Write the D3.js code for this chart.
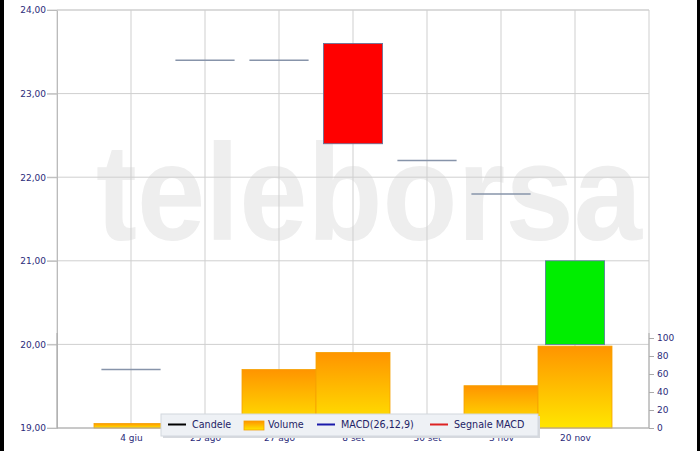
<html>
<head>
	<meta content="text/html;charset=utf-8" http-equiv="Content-Type">
	<style>
		body {
			margin: 0;
			background: white;
			font-family: "DejaVu Sans", Verdana, sans-serif;
		}
		svg {
			display: block;
		}
	</style>
	<script src="https://cdn.jsdelivr.net/npm/d3@7"></script>
</head>
<body>
	<svg id="Chart"></svg>
</body>
<script>
	// categories and series
	let dates = ["4 giu", "25 ago", "27 ago", "8 set", "30 set", "3 nov", "20 nov"]
	let openPrices = [19.70, 23.40, 23.40, 23.60, 22.20, 21.80, 20.00]
	let closePrices = [19.70, 23.40, 23.40, 22.40, 22.20, 21.80, 21.00]
	let volumes = [5, 3, 65, 84, 3, 47, 91]
	let priceTicks = [19, 20, 21, 22, 23, 24]
	let volumeTicks = [0, 20, 40, 60, 80, 100]
	let legendItems = ["Candele", "Volume", "MACD(26,12,9)", "Segnale MACD"]

	function getConfig() {
		let width = 700
		let height = 451
		let margin = { top: 10, bottom: 23, left: 57, right: 51 }
		let bodyWidth = width - margin.left - margin.right
		let bodyHeight = height - margin.top - margin.bottom
		let container = d3.select("#Chart")
			.attr("width", width)
			.attr("height", height)
		return { width, height, margin, bodyWidth, bodyHeight, container }
	}

	function getScales(config) {
		let { margin, width, height } = config
		let xScale = d3.scalePoint()
			.domain(dates)
			.range([margin.left, width - margin.right])
			.padding(1)
		let yScale = d3.scaleLinear()
			.domain([19, 24])
			.range([height - margin.bottom, margin.top])
		// volume pane sits in the bottom of the plot, 0..100 over 90px
		let vScale = d3.scaleLinear()
			.domain([0, 100])
			.range([height - margin.bottom, height - margin.bottom - 90])
		return { xScale, yScale, vScale }
	}

	function drawBackground(config) {
		let { container, width, height, margin } = config
		container.append("rect")
			.attr("width", width).attr("height", height)
			.attr("fill", "white")
		// dark strips on the sides of the picture
		container.append("rect").attr("x", 0).attr("y", 0)
			.attr("width", 4).attr("height", height).attr("fill", "#000")
		container.append("rect").attr("x", width - 3).attr("y", 0)
			.attr("width", 3).attr("height", height).attr("fill", "#000")

		// watermark
		container.append("text")
			.attr("x", 96)
			.attr("y", 240)
			.attr("textLength", 546)
			.attr("lengthAdjust", "spacingAndGlyphs")
			.attr("font-family", "Liberation Sans, Arial, sans-serif")
			.attr("font-weight", "bold")
			.attr("font-size", 138)
			.attr("fill", "#eeeeee")
			.text("teleborsa")
	}

	function drawGrid(config, scales) {
		let { container, margin, width, height } = config
		let { xScale, yScale } = scales
		let grid = container.append("g")

		grid.selectAll(".hgrid").data(priceTicks)
			.enter().append("line")
			.attr("x1", margin.left - 10)
			.attr("x2", width - margin.right)
			.attr("y1", d => yScale(d))
			.attr("y2", d => yScale(d))
			.attr("stroke", "#cfcfcf")

		let xs = [margin.left].concat(dates.map(d => xScale(d)), [width - margin.right])
		grid.selectAll(".vgrid").data(xs)
			.enter().append("line")
			.attr("x1", d => d).attr("x2", d => d)
			.attr("y1", margin.top)
			.attr("y2", height - margin.bottom)
			.attr("stroke", "#cfcfcf")
	}

	function drawVolumes(config, scales) {
		let { container } = config
		let { xScale, vScale } = scales
		let step = xScale.step()

		let grad = container.append("defs").append("linearGradient")
			.attr("id", "volGrad")
			.attr("x1", 0).attr("y1", 0).attr("x2", 0).attr("y2", 1)
		grad.append("stop").attr("offset", "0%").attr("stop-color", "#ff9400")
		grad.append("stop").attr("offset", "100%").attr("stop-color", "#ffe600")

		container.append("g").selectAll("rect")
			.data(dates)
			.enter().append("rect")
			.attr("x", d => xScale(d) - step / 2)
			.attr("width", step)
			.attr("y", (d, i) => vScale(volumes[i]))
			.attr("height", (d, i) => vScale(0) - vScale(volumes[i]))
			.attr("fill", "url(#volGrad)")
			.attr("stroke", "#f5a000")
			.attr("stroke-width", 0.8)
	}

	function drawCandles(config, scales) {
		let { container } = config
		let { xScale, yScale } = scales
		let w = xScale.step() * 0.8
		let body = container.append("g")

		dates.forEach((d, i) => {
			let o = openPrices[i], c = closePrices[i]
			if (o === c) {
				body.append("line")
					.attr("x1", xScale(d) - w / 2)
					.attr("x2", xScale(d) + w / 2)
					.attr("y1", yScale(o)).attr("y2", yScale(o))
					.attr("stroke", "#8794aa")
					.attr("stroke-width", 1.5)
			} else {
				body.append("rect")
					.attr("x", xScale(d) - w / 2)
					.attr("width", w)
					.attr("y", yScale(Math.max(o, c)))
					.attr("height", Math.abs(yScale(o) - yScale(c)))
					.attr("fill", c > o ? "#00ee00" : "#ff0000")
					.attr("stroke", "#5a78a0")
					.attr("stroke-width", 0.8)
			}
		})
	}

	function drawAxes(config, scales) {
		let { container, margin, width, height } = config
		let { xScale, yScale, vScale } = scales
		let labelColor = "#2b2b7a"

		let axisY = d3.axisLeft(yScale)
			.tickValues(priceTicks)
			.tickSize(10)
			.tickFormat(d => d3.format(".2f")(d).replace(".", ","))
		let gy = container.append("g")
			.attr("transform", `translate(${margin.left},0)`)
			.call(axisY)
		gy.select(".domain").attr("stroke", "#bbbbbb")
		gy.selectAll(".tick line").attr("stroke", "#bbbbbb")
		gy.selectAll("text").attr("fill", labelColor)
			.attr("font-size", 9).attr("font-family", "DejaVu Sans, Verdana, sans-serif")
			.attr("x", -11)

		// volume axis on the right
		let axisV = d3.axisRight(vScale)
			.tickValues(volumeTicks)
			.tickSize(5)
			.tickSizeOuter(0)
		let gv = container.append("g")
			.attr("transform", `translate(${width - margin.right},0)`)
			.call(axisV)
		gv.select(".domain").attr("stroke", "#aaaaaa")
			.attr("d", `M0,${vScale(0)}V${vScale(100) - 5}`)
		gv.selectAll(".tick line").attr("stroke", "#aaaaaa")
		gv.selectAll("text").attr("fill", labelColor)
			.attr("font-size", 9).attr("font-family", "DejaVu Sans, Verdana, sans-serif")
			.attr("x", 8)

		// left pane frame of the volume area
		container.append("line")
			.attr("x1", margin.left).attr("x2", margin.left)
			.attr("y1", vScale(100) - 5).attr("y2", vScale(0))
			.attr("stroke", "#aaaaaa")

		let axisX = d3.axisBottom(xScale).tickSize(0)
		let gx = container.append("g")
			.attr("transform", `translate(0,${height - margin.bottom})`)
			.call(axisX)
		gx.select(".domain").attr("stroke", "#aaaaaa")
			.attr("d", `M${margin.left},0H${width - margin.right}`)
		gx.selectAll("text").attr("fill", labelColor)
			.attr("font-size", 9).attr("font-family", "DejaVu Sans, Verdana, sans-serif")
			.attr("y", 7)

		// top frame line
		container.append("line")
			.attr("x1", margin.left).attr("x2", width - margin.right)
			.attr("y1", margin.top).attr("y2", margin.top)
			.attr("stroke", "#cfcfcf")
	}

	function drawLegend(config) {
		let { container } = config
		let lg = container.append("g").attr("transform", "translate(161,414)")
		lg.append("rect")
			.attr("x", 2).attr("y", 2).attr("width", 377).attr("height", 22)
			.attr("fill", "#d6d9de")
		lg.append("rect")
			.attr("width", 377).attr("height", 22)
			.attr("fill", "#eef1f5")
			.attr("stroke", "#d2d7de")

		let offsets = [7, 83, 156, 269]
		let colors = ["#000000", null, "#1a1aaa", "#dd2222"]
		legendItems.forEach((name, i) => {
			let x = offsets[i]
			if (colors[i]) {
				lg.append("line")
					.attr("x1", x).attr("x2", x + 18)
					.attr("y1", 10.5).attr("y2", 10.5)
					.attr("stroke", colors[i]).attr("stroke-width", 2)
			} else {
				lg.append("rect")
					.attr("x", x).attr("y", 7)
					.attr("width", 20).attr("height", 9)
					.attr("fill", "url(#volGrad)")
					.attr("stroke", "#f5a000").attr("stroke-width", 0.8)
			}
			lg.append("text")
				.attr("x", x + 24)
				.attr("y", 14)
				.attr("font-size", 9.6)
				.attr("font-family", "DejaVu Sans, Verdana, sans-serif")
				.attr("fill", "#1e1e66")
				.text(name)
		})
	}

	function showChart() {
		let config = getConfig()
		let scales = getScales(config)
		drawBackground(config)
		drawGrid(config, scales)
		drawVolumes(config, scales)
		drawCandles(config, scales)
		drawAxes(config, scales)
		drawLegend(config)
	}

	showChart()
</script>
</html>
